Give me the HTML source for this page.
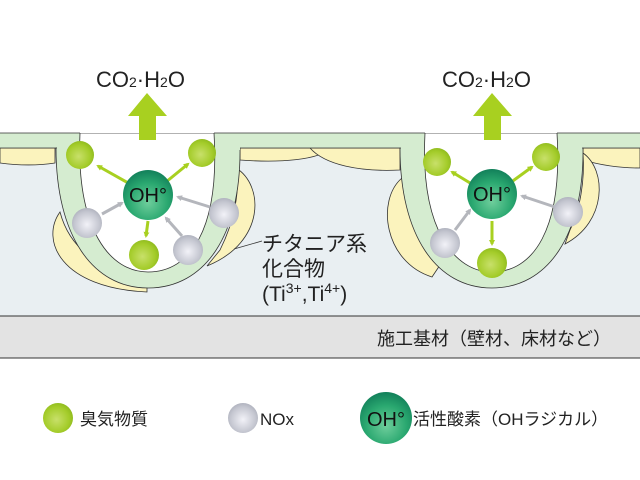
<!DOCTYPE html>
<html><head><meta charset="utf-8"><style>
html,body{margin:0;padding:0;background:#fff;}
svg{display:block;}
text{font-family:"Liberation Sans","Noto Sans CJK JP",sans-serif;fill:#222;}
</style></head><body>
<svg width="640" height="480" viewBox="0 0 640 480" xmlns="http://www.w3.org/2000/svg">
<defs>
<radialGradient id="gG" cx="0.45" cy="0.55" r="0.6"><stop offset="0" stop-color="#c8e06a"/><stop offset="0.7" stop-color="#a4cc2a"/><stop offset="1" stop-color="#8cb81c"/></radialGradient>
<radialGradient id="gY" cx="0.5" cy="0.55" r="0.6"><stop offset="0" stop-color="#f2f2f8"/><stop offset="0.7" stop-color="#c4c6d0"/><stop offset="1" stop-color="#a9acb8"/></radialGradient>
<radialGradient id="gO" cx="0.5" cy="0.65" r="0.65"><stop offset="0" stop-color="#6fce9c"/><stop offset="0.6" stop-color="#2aa870"/><stop offset="1" stop-color="#12805a"/></radialGradient>
<marker id="ag" markerWidth="6" markerHeight="6" refX="4" refY="3" orient="auto" markerUnits="userSpaceOnUse"><path d="M0,0 L6,3 L0,6z" fill="#a8d020"/></marker>
<marker id="ay" markerWidth="6" markerHeight="6" refX="4" refY="3" orient="auto" markerUnits="userSpaceOnUse"><path d="M0,0 L6,3 L0,6z" fill="#b4b6bc"/></marker>
</defs>
<rect x="0" y="133" width="640" height="183" fill="#e9eff2"/>
<rect x="0" y="316" width="640" height="42" fill="#e3e3e3"/>
<line x1="0" y1="316" x2="640" y2="316" stroke="#333" stroke-width="1"/>
<line x1="0" y1="358" x2="640" y2="358" stroke="#333" stroke-width="1"/>
<g fill="#fbf3bd" stroke="#333" stroke-width="0.8">
<path d="M0,148 L55,148 L55,163 C35,166 15,165 0,163z"/>
<path d="M240,148 L330,148 C320,160 280,163 240,160z"/>
<path d="M310,148 L400,148 L400,170 C360,172 325,165 310,148z"/>
<path d="M583,148 L640,148 L640,168 C620,168 600,165 583,160z"/>
<path d="M60,212 C40,240 60,288 147,292 L147,280 C100,270 70,250 60,212z"/>
<path d="M236,168 C264,185 266,242 207,266 L220,250 C235,220 240,190 236,168z"/>
<path d="M402,178 C376,200 384,262 432,277 L440,265 C415,240 405,210 402,178z"/>
<path d="M583,153 C607,170 607,222 565,244 L570,230 C580,210 585,180 583,153z"/>
</g>
<rect x="0" y="133" width="640" height="15" fill="#d5ecd0"/>
<path d="M0,148 L57,148 M240,148 L400,148 M583,148 L640,148" stroke="#333" stroke-width="0.8"/>
<path d="M56,148 C56,235 92,288 148,288 C205,288 241,235 240,148z" fill="#d5ecd0" stroke="#333" stroke-width="0.8"/>
<path d="M400,148 C400,235 436,288 492,288 C548,288 584,235 583,148z" fill="#d5ecd0" stroke="#333" stroke-width="0.8"/>
<rect x="57" y="140" width="183" height="10" fill="#d5ecd0"/>
<rect x="401" y="140" width="181" height="10" fill="#d5ecd0"/>
<path d="M80,133 C76,230 110,272 148,272 C190,272 220,230 214,133z" fill="#fff" stroke="#333" stroke-width="0.8"/>
<path d="M425,133 C420,230 455,272 492,272 C533,272 563,230 557,133z" fill="#fff" stroke="#333" stroke-width="0.8"/>
<rect x="0" y="0" width="640" height="133" fill="#fff"/>
<path d="M0,133 L80,133 M214,133 L425,133 M557,133 L640,133" stroke="#333" stroke-width="0.8"/>
<path d="M147,93 L167,116 L156,116 L156,140 L139,140 L139,116 L128,116z" fill="#a8d020"/>
<path d="M492,93 L512,116 L501,116 L501,140 L484,140 L484,116 L473,116z" fill="#a8d020"/>
<text x="96" y="87" font-size="22">CO<tspan font-size="14">2</tspan>·H<tspan font-size="14">2</tspan>O</text>
<text x="442" y="87" font-size="22">CO<tspan font-size="14">2</tspan>·H<tspan font-size="14">2</tspan>O</text>
<g stroke-width="3" fill="none">
<line x1="130" y1="184" x2="98" y2="166" stroke="#a8d020" marker-end="url(#ag)"/>
<line x1="166" y1="182" x2="188" y2="164" stroke="#a8d020" marker-end="url(#ag)"/>
<line x1="148" y1="221" x2="146" y2="236" stroke="#a8d020" marker-end="url(#ag)"/>
<line x1="102" y1="214" x2="122" y2="203" stroke="#b4b6bc" marker-end="url(#ay)"/>
<line x1="210" y1="207" x2="178" y2="197" stroke="#b4b6bc" marker-end="url(#ay)"/>
<line x1="182" y1="236" x2="166" y2="218" stroke="#b4b6bc" marker-end="url(#ay)"/>
<line x1="475" y1="186" x2="452" y2="172" stroke="#a8d020" marker-end="url(#ag)"/>
<line x1="510" y1="183" x2="532" y2="167" stroke="#a8d020" marker-end="url(#ag)"/>
<line x1="492" y1="221" x2="492" y2="244" stroke="#a8d020" marker-end="url(#ag)"/>
<line x1="455" y1="230" x2="470" y2="210" stroke="#b4b6bc" marker-end="url(#ay)"/>
<line x1="555" y1="207" x2="522" y2="196" stroke="#b4b6bc" marker-end="url(#ay)"/>
</g>
<g>
<circle cx="80" cy="155" r="14" fill="url(#gG)"/>
<circle cx="202" cy="153" r="14" fill="url(#gG)"/>
<circle cx="144" cy="255" r="15" fill="url(#gG)"/>
<circle cx="87" cy="223" r="15" fill="url(#gY)"/>
<circle cx="224" cy="213" r="15" fill="url(#gY)"/>
<circle cx="188" cy="250" r="15" fill="url(#gY)"/>
<circle cx="148" cy="195" r="25" fill="url(#gO)"/>
<circle cx="437" cy="162" r="14" fill="url(#gG)"/>
<circle cx="546" cy="157" r="14" fill="url(#gG)"/>
<circle cx="492" cy="263" r="15" fill="url(#gG)"/>
<circle cx="445" cy="243" r="15" fill="url(#gY)"/>
<circle cx="568" cy="212" r="15" fill="url(#gY)"/>
<circle cx="492" cy="194" r="25" fill="url(#gO)"/>
</g>
<text x="148" y="202" font-size="20" text-anchor="middle" style="fill:#111">OH°</text>
<text x="492" y="201" font-size="20" text-anchor="middle" style="fill:#111">OH°</text>
<line x1="234" y1="249" x2="262" y2="241" stroke="#333" stroke-width="0.8"/>
<text x="262" y="251" font-size="21">チタニア系</text>
<text x="262" y="276" font-size="21">化合物</text>
<text x="262" y="301" font-size="21">(Ti<tspan font-size="14" dy="-8">3+</tspan><tspan dy="8">,Ti</tspan><tspan font-size="14" dy="-8">4+</tspan><tspan dy="8">)</tspan></text>
<text x="377" y="345" font-size="18">施工基材（壁材、床材など）</text>
<circle cx="58" cy="418" r="15" fill="url(#gG)"/>
<text x="80" y="425" font-size="17">臭気物質</text>
<circle cx="243" cy="418" r="15" fill="url(#gY)"/>
<text x="260" y="425" font-size="17">NOx</text>
<circle cx="386" cy="418" r="26" fill="url(#gO)"/>
<text x="386" y="426" font-size="20" text-anchor="middle" style="fill:#111">OH°</text>
<text x="413" y="425" font-size="17">活性酸素（OHラジカル）</text>
</svg>
</body></html>
